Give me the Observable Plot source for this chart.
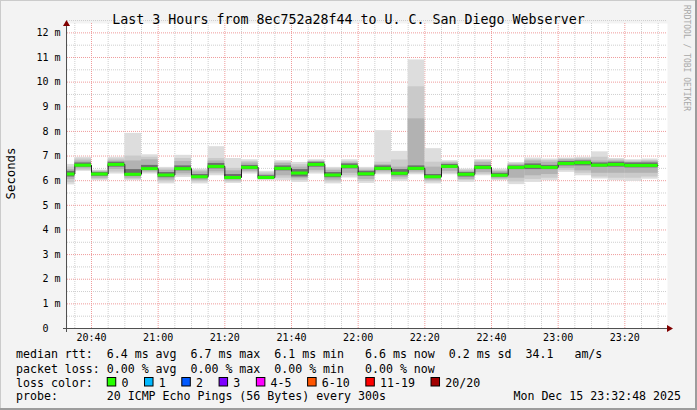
<!DOCTYPE html>
<html><head><meta charset="utf-8">
<script src="https://cdn.jsdelivr.net/npm/d3@7"></script>
<script src="https://cdn.jsdelivr.net/npm/@observablehq/plot@0.6"></script>
<style>
html,body{margin:0;padding:0;background:#f3f3f3;}
#chart svg{display:block;}
</style>
</head><body><div id="chart"></div>
<script>
// ---------- data ----------
const title = "Last 3 Hours from 8ec752a28f44 to U. C. San Diego Webserver";
const yLabel = "Seconds";
const watermark = "RRDTOOL / TOBI OETIKER";
const stepStart = "2025-12-15T20:30:00Z";   // start of the first 300 s step
const stepMinutes = 5;
const viewStart = "2025-12-15T20:32:48Z";
const viewEnd = "2025-12-15T23:32:48Z";

// median RTT per step (ms)
const median = [6.27,6.63,6.27,6.66,6.26,6.49,6.23,6.49,6.16,6.58,6.13,6.54,6.13,6.50,6.31,6.66,6.23,6.58,6.28,6.50,6.30,6.50,6.16,6.58,6.26,6.54,6.22,6.54,6.58,6.54,6.70,6.73,6.63,6.66,6.62,6.62];
// smoke: outermost pings (min / max)
const lo1 = [5.83,6.38,6.00,6.27,6.00,6.27,5.87,6.13,5.87,6.20,5.89,6.27,6.00,6.00,5.93,6.27,5.87,6.11,5.89,6.24,5.97,6.24,5.87,6.24,5.93,6.20,6.00,5.84,5.93,6.00,6.34,6.20,6.07,6.00,5.97,6.06];
const hi1 = [6.66,6.95,6.43,6.95,7.92,7.05,6.54,7.03,6.47,7.38,6.90,6.85,6.38,6.81,6.74,6.85,6.54,6.85,6.54,8.03,7.19,10.90,7.30,6.81,6.47,6.85,6.47,6.74,6.92,6.88,6.92,6.95,7.17,6.90,6.85,6.88];
// second pings
const lo2 = [5.92,6.42,6.05,6.35,6.05,6.32,5.95,6.20,5.95,6.28,5.95,6.33,6.04,6.10,6.00,6.35,5.95,6.20,5.97,6.30,6.05,6.30,5.95,6.30,6.00,6.26,6.04,5.95,6.05,6.10,6.42,6.30,6.15,6.10,6.10,6.15];
const hi2 = [6.55,6.88,6.40,6.88,7.00,6.95,6.48,6.90,6.42,6.90,6.50,6.78,6.32,6.75,6.65,6.80,6.48,6.78,6.48,6.75,6.84,9.81,6.75,6.76,6.43,6.80,6.42,6.70,6.85,6.82,6.88,6.90,6.95,6.85,6.80,6.82];
// third pings
const lo3 = [6.05,6.48,6.10,6.45,6.10,6.36,6.02,6.28,6.00,6.36,6.00,6.38,6.06,6.20,6.08,6.42,6.02,6.30,6.05,6.36,6.12,6.35,6.00,6.38,6.05,6.33,6.08,6.10,6.20,6.25,6.50,6.40,6.30,6.30,6.30,6.30];
const hi3 = [6.45,6.80,6.37,6.80,6.80,6.85,6.42,6.78,6.36,6.80,6.40,6.72,6.26,6.70,6.55,6.76,6.42,6.72,6.42,6.65,6.55,8.51,6.55,6.72,6.38,6.74,6.37,6.65,6.80,6.75,6.85,6.85,6.80,6.80,6.75,6.78];
// inner pings (dark core)
const lo4 = [6.15,6.55,6.18,6.55,6.18,6.42,6.12,6.40,6.08,6.48,6.05,6.45,6.08,6.40,6.15,6.55,6.12,6.48,6.18,6.42,6.20,6.42,6.08,6.50,6.15,6.45,6.15,6.45,6.45,6.45,6.60,6.60,6.55,6.55,6.52,6.52];
const hi4 = [6.38,6.72,6.33,6.75,6.45,6.62,6.33,6.60,6.25,6.70,6.25,6.62,6.20,6.60,6.45,6.75,6.33,6.68,6.38,6.60,6.45,6.60,6.25,6.66,6.33,6.62,6.30,6.60,6.68,6.62,6.78,6.80,6.72,6.75,6.72,6.72];
// packet loss per step (count of 20) - all zero
const loss = [0,0,0,0,0,0,0,0,0,0,0,0,0,0,0,0,0,0,0,0,0,0,0,0,0,0,0,0,0,0,0,0,0,0,0,0];

const yMajorTicks = [0,1,2,3,4,5,6,7,8,9,10,11,12];
const yTickLabels = ["0\u00a0\u00a0","1 m","2 m","3 m","4 m","5 m","6 m","7 m","8 m","9 m","10 m","11 m","12 m"];
const xTickLabels = ["20:40","21:00","21:20","21:40","22:00","22:20","22:40","23:00","23:20"];

const legendRtt = "median rtt:  6.4 ms avg  6.7 ms max  6.1 ms min   6.6 ms now  0.2 ms sd  34.1   am/s";
const legendLoss = "packet loss: 0.00 % avg  0.00 % max  0.00 % min   0.00 % now";
const legendColorTitle = "loss color:";
const lossLabels = ["0","1","2","3","4-5","6-10","11-19","20/20"];
const lossColors = ["#26ff00","#00b8ff","#0059ff","#7e00ff","#ff00ff","#ff5500","#ff0000","#a10000"];
const probeText = "probe:       20 ICMP Echo Pings (56 Bytes) every 300s";
const dateText = "Mon Dec 15 23:32:48 2025";

// ---------- build ----------
const t0 = new Date(stepStart).getTime();
const stepMs = stepMinutes * 60000;
const steps = median.map((m, i) => ({
  start: new Date(t0 + i * stepMs), end: new Date(t0 + (i + 1) * stepMs),
  median: m, lo1: lo1[i], hi1: hi1[i], lo2: lo2[i], hi2: hi2[i],
  lo3: lo3[i], hi3: hi3[i], lo4: lo4[i], hi4: hi4[i], loss: loss[i]
}));
const linePts = steps.map(s => ({t: s.start, v: s.median}))
  .concat([{t: steps[steps.length - 1].end, v: steps[steps.length - 1].median}]);

const day = viewStart.slice(0, 10);
const xMajor = xTickLabels.map(l => new Date(`${day}T${l}:00Z`));
const xMinor = d3.utcMinute.every(5).range(new Date(viewStart), new Date(viewEnd)).filter(d => d.getUTCMinutes() % 20 !== 0);
const yMinor = yMajorTicks.map(v => v + 0.5);

const W = 697, H = 410;
const chart = Plot.plot({
  width: W, height: H,
  marginLeft: 67, marginRight: 30, marginTop: 23, marginBottom: 82,
  style: {fontFamily: "'DejaVu Sans Mono', monospace", fontSize: "10px", color: "#000", background: "#f3f3f3", overflow: "visible"},
  x: {type: "utc", domain: [new Date(viewStart), new Date(viewEnd)]},
  y: {domain: [0, 12.38]},
  marks: [
    Plot.frame({fill: "white", stroke: "none"}),
    Plot.ruleY(yMinor, {stroke: "#cfcfcf", strokeDasharray: "1,1"}),
    Plot.ruleX(xMinor, {stroke: "#cfcfcf", strokeDasharray: "1,1"}),
    Plot.ruleY(yMajorTicks.slice(1), {stroke: "#ef9c9c", strokeDasharray: "1,1"}),
    Plot.ruleX(xMajor, {stroke: "#ef9c9c", strokeDasharray: "1,1"}),
    Plot.rectY(steps, {x1: "start", x2: "end", y1: "lo1", y2: "hi1", fill: "#dddddd", clip: true}),
    Plot.rectY(steps, {x1: "start", x2: "end", y1: "lo2", y2: "hi2", fill: "#cacaca", clip: true}),
    Plot.rectY(steps, {x1: "start", x2: "end", y1: "lo3", y2: "hi3", fill: "#b2b2b2", clip: true}),
    Plot.rectY(steps, {x1: "start", x2: "end", y1: "lo4", y2: "hi4", fill: "#6e6e6e", clip: true}),
    Plot.line(linePts, {x: "t", y: "v", curve: "step-after", stroke: "#202020", strokeWidth: 1, clip: true}),
    Plot.ruleY(steps, {y: "median", x1: "start", x2: "end", stroke: d => lossColors[d.loss], strokeWidth: 3, clip: true}),
    Plot.axisY(yMajorTicks, {tickSize: 0, tickPadding: 7, fontSize: 10, tickFormat: d => yTickLabels[yMajorTicks.indexOf(d)], label: null}),
    Plot.axisX(xMajor, {tickSize: 0, tickPadding: 5.5, fontSize: 10, tickFormat: d => xTickLabels[xMajor.findIndex(t => +t === +d)], label: null})
  ]
});
document.getElementById("chart").appendChild(chart);

// ---------- decorations ----------
const svg = d3.select(chart);
const xs = chart.scale("x"), ys = chart.scale("y");
const xL = xs.range[0], xR = xs.range[1], yB = ys.range[0], yT = ys.range[1];
const axisColor = "#505050", arrowColor = "#800000";
const g = svg.append("g").attr("text-anchor", "start");
// axes
g.append("line").attr("x1", xL - 4).attr("x2", xR + 2).attr("y1", yB + 0.5).attr("y2", yB + 0.5).attr("stroke", axisColor);
g.append("line").attr("x1", xL - 0.5).attr("x2", xL - 0.5).attr("y1", yB + 4).attr("y2", yT + 1).attr("stroke", axisColor);
g.append("path").attr("d", `M${xR},${yB - 3}L${xR + 6},${yB + 0.5}L${xR},${yB + 4}Z`).attr("fill", arrowColor);
g.append("path").attr("d", `M${xL - 4},${yT + 3}L${xL - 0.5},${yT - 3}L${xL + 3},${yT + 3}Z`).attr("fill", arrowColor);
// border
g.append("line").attr("x1", 0).attr("x2", W).attr("y1", 0.5).attr("y2", 0.5).attr("stroke", "#cbcbcb");
g.append("line").attr("x1", 0.5).attr("x2", 0.5).attr("y1", 0).attr("y2", H).attr("stroke", "#cbcbcb");
g.append("line").attr("x1", W - 1).attr("x2", W - 1).attr("y1", 0).attr("y2", H).attr("stroke", "#9c9c9c").attr("stroke-width", 2);
g.append("line").attr("x1", 0).attr("x2", W).attr("y1", H - 1).attr("y2", H - 1).attr("stroke", "#9c9c9c").attr("stroke-width", 2);
// title
g.append("text").attr("x", W / 2).attr("y", 24).attr("text-anchor", "middle")
  .style("font-size", "13.3px").text(title);
// y label
g.append("text").attr("transform", `translate(14.5,${(yT + yB) / 2 - 2}) rotate(-90)`).attr("text-anchor", "middle")
  .style("font-size", "12.3px").text(yLabel);
// watermark
g.append("text").attr("transform", `translate(684,5) rotate(90)`).attr("text-anchor", "start").attr("fill", "#a8a8a8")
  .style("font-size", "8px").text(watermark);
// legend
const lf = "11.6px";
const row = (y, s) => g.append("text").attr("x", 16).attr("y", y).attr("text-anchor", "start")
  .style("font-size", lf).style("white-space", "pre").attr("xml:space", "preserve").text(s);
row(358.3, legendRtt);
row(372.5, legendLoss);
const lc = row(386.5, legendColorTitle);
const cw = lc.node().getComputedTextLength() / legendColorTitle.length;
let bx = 16 + 13 * cw;
lossLabels.forEach((lab, i) => {
  g.append("rect").attr("x", bx + 0.5).attr("y", 377.5).attr("width", 8.5).attr("height", 8.5)
    .attr("fill", lossColors[i]).attr("stroke", "#000");
  const lx = bx + 14.7;
  g.append("text").attr("x", lx).attr("y", 386.5).attr("text-anchor", "start").style("font-size", lf).text(lab);
  bx = lx + lab.length * cw + 15.6;
});
row(400.3, probeText);
g.append("text").attr("x", 681).attr("y", 400.3).attr("text-anchor", "end").style("font-size", lf).text(dateText);
</script>
</body></html>
